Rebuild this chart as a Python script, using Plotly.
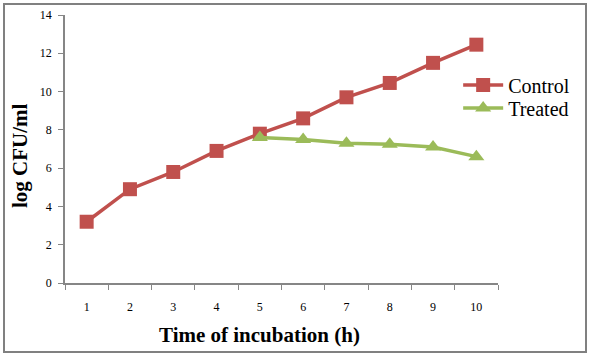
import plotly.graph_objects as go

hours = ["1", "2", "3", "4", "5", "6", "7", "8", "9", "10"]
control = [3.2, 4.9, 5.8, 6.9, 7.8, 8.6, 9.7, 10.45, 11.5, 12.45]
treated_hours = ["5", "6", "7", "8", "9", "10"]
treated = [7.6, 7.5, 7.3, 7.25, 7.1, 6.6]

FONT = "Liberation Serif"

fig = go.Figure()
fig.add_trace(go.Scatter(x=hours, y=control, name="Control", mode="lines+markers",
                         line=dict(color="#C0504D", width=3.5), legend="legend",
                         marker=dict(symbol="square", size=14, color="#C0504D")))
fig.add_trace(go.Scatter(x=treated_hours, y=treated, name="Treated", mode="lines+markers",
                         line=dict(color="#9BBB59", width=3.5), legend="legend2",
                         marker=dict(symbol="triangle-up", size=14, color="#9BBB59")))

axis_col = "#868686"
leg_common = dict(xanchor="left", yanchor="middle", font=dict(size=20, family=FONT),
                  bgcolor="rgba(0,0,0,0)", itemwidth=40)
fig.update_layout(
    width=592, height=357,
    margin=dict(l=65, r=94, t=15, b=74, autoexpand=False),
    paper_bgcolor="white", plot_bgcolor="white",
    font=dict(family=FONT, color="black"),
    showlegend=True,
    legend=dict(x=0.908, y=(283-85)/268, **leg_common),
    legend2=dict(x=0.908, y=(283-108)/268, **leg_common),
    xaxis=dict(type="category", categoryorder="array", categoryarray=hours,
               range=[-0.5, 9.5], showgrid=False, zeroline=False, automargin=False,
               showline=True, linecolor=axis_col, linewidth=1.5,
               ticks="outside", tickson="boundaries", ticklen=5, tickcolor=axis_col,
               tickfont=dict(size=12, family=FONT), ticklabelstandoff=12),
    yaxis=dict(range=[0, 14], dtick=2, showgrid=False, zeroline=False, automargin=False,
               showline=True, linecolor=axis_col, linewidth=1.5,
               ticks="outside", ticklen=5, tickcolor=axis_col,
               tickfont=dict(size=12, family=FONT), ticklabelstandoff=4),
    annotations=[
        dict(text="<b>Time of incubation (h)</b>", xref="paper", yref="paper",
             x=(259-65)/433, y=(283-335)/268, xanchor="center", yanchor="middle",
             showarrow=False, font=dict(size=21, family=FONT)),
        dict(text="<b>log CFU/ml</b>", xref="paper", yref="paper",
             x=(20-65)/433, y=(283-156)/268, xanchor="center", yanchor="middle",
             textangle=-90, showarrow=False, font=dict(size=21, family=FONT)),
    ],
    shapes=[dict(type="rect", xref="paper", yref="paper",
                 x0=(4-65)/433, x1=(586-65)/433, y0=(283-352)/268, y1=(283-4)/268,
                 line=dict(color="#808080", width=2))],
)

fig.write_html("out.html", config={"displayModeBar": False},
               post_script="document.body.style.margin='0';document.body.style.overflow='hidden';")
